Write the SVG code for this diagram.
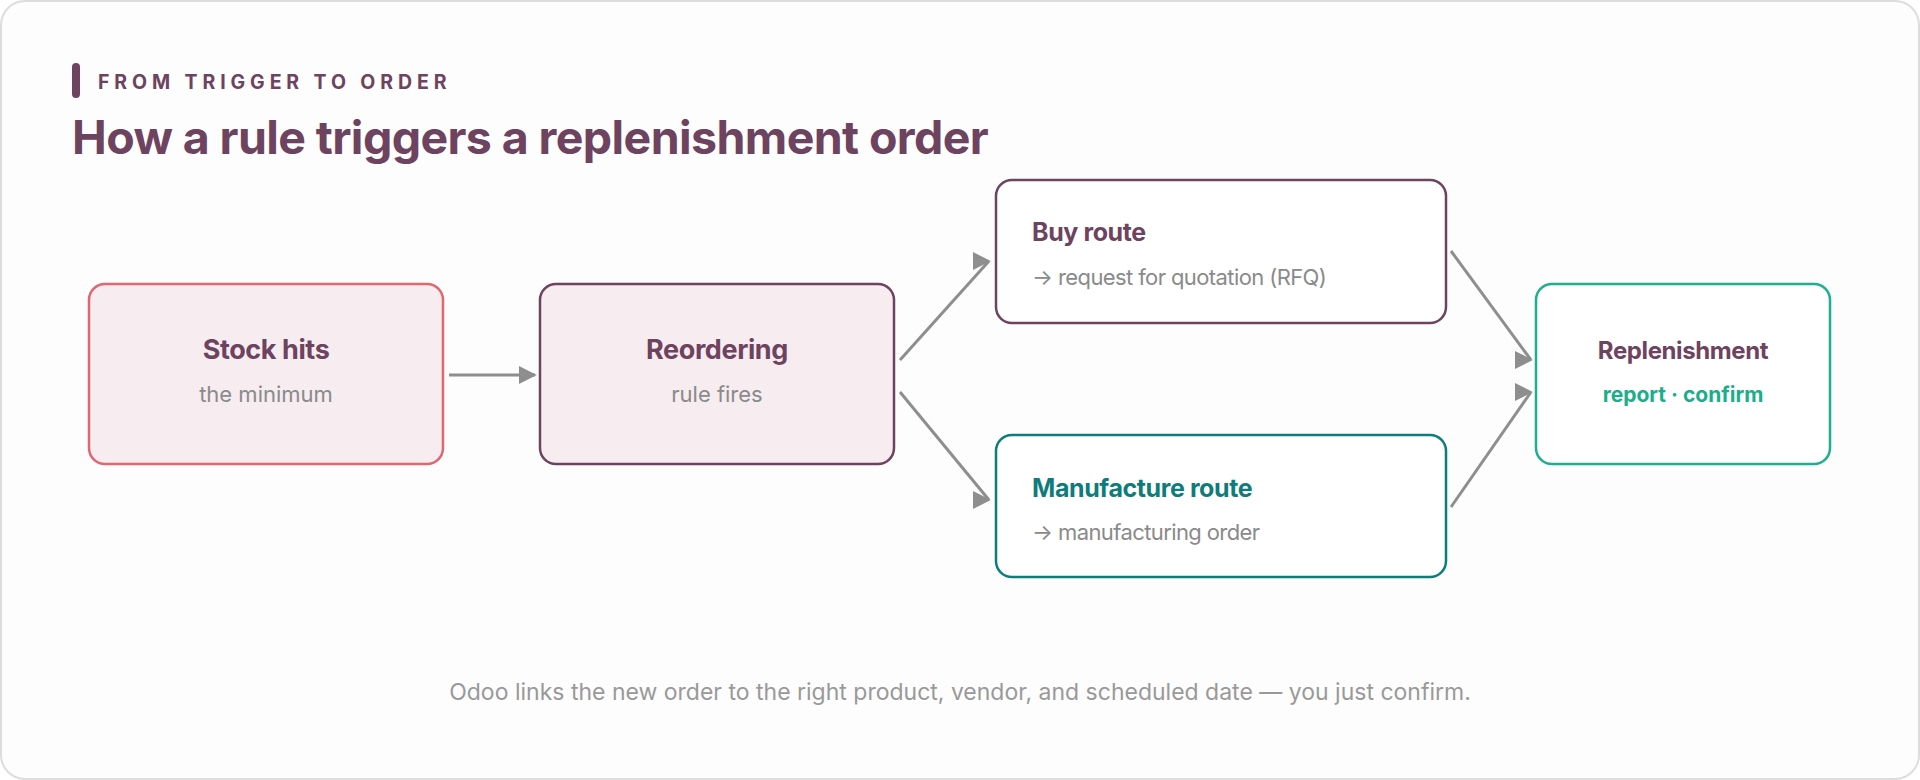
<svg xmlns="http://www.w3.org/2000/svg" width="1920" height="780" viewBox="0 0 1920 780">
<style>
text{font-family:Inter,"Noto Sans","Liberation Sans",sans-serif}
.t{font-size:27px;font-weight:700;fill:#6d435f;letter-spacing:-0.4px}
.s{font-size:22px;fill:#8a8a8a}
.c{stroke:#8e8e8e;stroke-width:3;fill:none;marker-end:url(#a)}
</style>
<defs><marker id="a" viewBox="0 0 10 10" refX="9" refY="5" markerWidth="6" markerHeight="6" orient="0"><path d="M0,0L10,5L0,10z" fill="#8e8e8e"/></marker></defs>
<rect x="1" y="1" width="1918" height="778" rx="24" fill="#fdfdfd" stroke="#dddddd" stroke-width="2"/>
<rect x="72" y="63" width="8" height="35" rx="4" fill="#6d435f"/>
<text x="98" y="89" font-size="19.5" font-weight="700" letter-spacing="4.9" fill="#6d435f">FROM TRIGGER TO ORDER</text>
<text x="72" y="154" font-size="46.5" font-weight="700" fill="#6d435f" letter-spacing="-0.6">How a rule triggers a replenishment order</text>
<g id="connectors">
<path class="c" d="M449,375H535"/>
<path class="c" d="M900,360L989,261"/>
<path class="c" d="M900,392L989,500"/>
<path class="c" d="M1451,251L1531,360"/>
<path class="c" d="M1451,507L1531,392"/>
</g>
<g id="stock"><rect x="89" y="284" width="354" height="180" rx="16" fill="#f7ecf0" stroke="#e06670" stroke-width="2.5"/>
<text class="t" x="266" y="359" text-anchor="middle">Stock hits</text><text class="s" x="266" y="402" text-anchor="middle">the minimum</text></g>
<g id="reorder"><rect x="540" y="284" width="354" height="180" rx="16" fill="#f7ecf0" stroke="#6d435f" stroke-width="2.5"/>
<text class="t" x="717" y="359" text-anchor="middle">Reordering</text><text class="s" x="717" y="402" text-anchor="middle">rule fires</text></g>
<g id="buy"><rect x="996" y="180" width="450" height="143" rx="16" fill="#fff" stroke="#6d435f" stroke-width="2.5"/>
<text class="t" x="1032" y="241" style="font-size:25px">Buy route</text><text class="s" x="1032" y="285" font-size="20" letter-spacing="-0.6">→ request for quotation (RFQ)</text></g>
<g id="mfg"><rect x="996" y="435" width="450" height="142" rx="16" fill="#fff" stroke="#0e7c7b" stroke-width="2.5"/>
<text class="t" x="1032" y="497" style="fill:#0e7c7b;font-size:25px">Manufacture route</text><text class="s" x="1032" y="540" font-size="20" letter-spacing="-0.6">→ manufacturing order</text></g>
<g id="repl"><rect x="1536" y="284" width="294" height="180" rx="16" fill="#fff" stroke="#1cb08e" stroke-width="2.5"/>
<text class="t" x="1683" y="359" text-anchor="middle" style="font-size:24px">Replenishment</text><text x="1683" y="402" text-anchor="middle" font-size="21" font-weight="700" fill="#1aae8a">report · confirm</text></g>
<text x="960" y="700" text-anchor="middle" font-size="23" fill="#999">Odoo links the new order to the right product, vendor, and scheduled date — you just confirm.</text>
</svg>
